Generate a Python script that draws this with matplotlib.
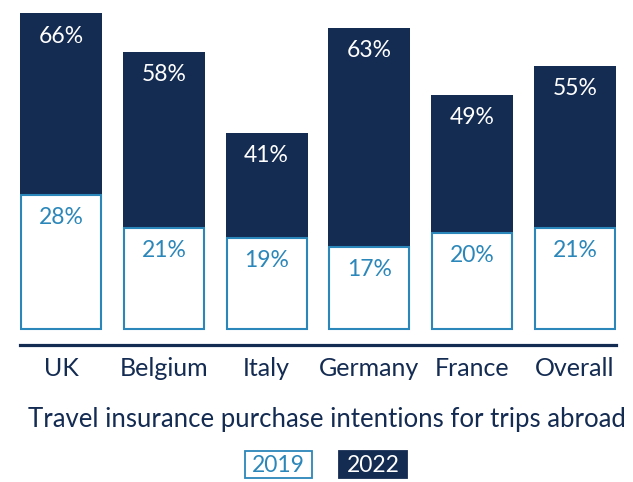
import matplotlib
matplotlib.use("Agg")
import matplotlib.pyplot as plt
from matplotlib.patches import Rectangle

countries = ["UK", "Belgium", "Italy", "Germany", "France", "Overall"]
pct_2019 = [28, 21, 19, 17, 20, 21]
pct_2022 = [66, 58, 41, 63, 49, 55]
years = ["2019", "2022"]

navy = "#142b52"
blue = "#2b87ba"

plt.rcParams["font.family"] = ["Lato", "DejaVu Sans"]

W, H = 633, 482
fig = plt.figure(figsize=(W / 100, H / 100), dpi=100)
ax = fig.add_axes([20 / W, (H - 345) / H, 596 / W, 334.6 / H])

x = list(range(len(countries)))
ax.bar(x, pct_2022, width=0.8, color=navy, zorder=2)
ax.bar(x, pct_2019, width=0.78, color="white", edgecolor=blue, linewidth=1.5, zorder=3)

# value labels just below each bar top
for xi, v in zip(x, pct_2022):
    ax.annotate(f"{v}%", (xi, v), xytext=(0, -16.5), textcoords="offset points",
                ha="center", va="center", color="white", fontsize=16.5)
for xi, v in zip(x, pct_2019):
    ax.annotate(f"{v}%", (xi, v), xytext=(0, -16), textcoords="offset points",
                ha="center", va="center", color=blue, fontsize=16.5, zorder=4)

ax.set_xlim(-0.4, 5.4)
ax.set_ylim(-3.4, 66.6)
ax.set_xticks(x)
ax.set_xticklabels(countries, fontsize=18, color=navy)
ax.tick_params(axis="x", length=0, pad=9)
ax.set_yticks([])

for spine in ["top", "right", "left"]:
    ax.spines[spine].set_visible(False)
ax.spines["bottom"].set_color(navy)
ax.spines["bottom"].set_linewidth(2.3)

fig.text(327 / W, 1 - 419 / H, "Travel insurance purchase intentions for trips abroad",
         ha="center", va="center", fontsize=18.5, color=navy)

# legend boxes (pixel layout)
legend_boxes = [(245, 312, "white", blue, blue), (339, 407, navy, navy, "white")]
for year, (x0, x1, fc, ec, tc) in zip(years, legend_boxes):
    fig.patches.append(Rectangle((x0 / W, 1 - 478 / H), (x1 - x0) / W, 27 / H,
                                 transform=fig.transFigure, fc=fc, ec=ec, lw=1.3))
    fig.text((x0 + x1) / 2 / W, 1 - 465 / H, year, ha="center", va="center",
             fontsize=16.5, color=tc)

fig.savefig("out.png", dpi=100)
